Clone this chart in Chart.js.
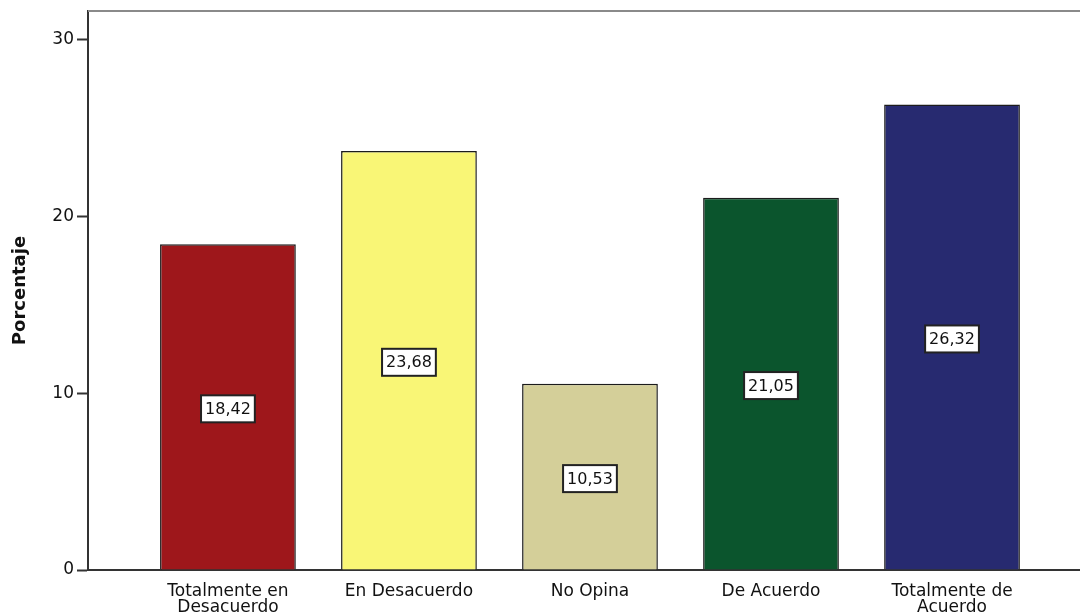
<!DOCTYPE html>
<html>
<head>
<meta charset="utf-8">
<script src="https://cdn.jsdelivr.net/npm/chart.js@4.4.1/dist/chart.umd.min.js"></script>
<style>
  html, body { margin: 0; padding: 0; background: #fff; overflow: hidden; }
  #wrap { width: 1080px; height: 615px; position: relative; }
</style>
</head>
<body>
<div id="wrap"><canvas id="c"></canvas></div>
<script>
// Porcentaje by response category (SPSS-style bar chart)
const categories = [
    ['Totalmente en', 'Desacuerdo'],
    'En Desacuerdo',
    'No Opina',
    'De Acuerdo',
    ['Totalmente de', 'Acuerdo']
];
const percentages = [18.42, 23.68, 10.53, 21.05, 26.32];
const barColors = ['#9e171b', '#f9f676', '#d4cf99', '#0b552d', '#272a70'];
const yTicks = [0, 10, 20, 30];

const FONT = '"DejaVu Sans", Verdana, sans-serif';
const points = percentages.map((v, i) => ({ x: i + 1, y: v }));

// white boxed value labels in the middle of each bar
const boxLabels = {
    id: 'boxLabels',
    afterDatasetsDraw(chart) {
        const ctx = chart.ctx;
        const meta = chart.getDatasetMeta(0);
        ctx.save();
        ctx.font = '16px ' + FONT;
        ctx.textAlign = 'center';
        ctx.textBaseline = 'middle';
        meta.data.forEach((bar, i) => {
            const txt = percentages[i].toFixed(2).replace('.', ',');
            const cy = (bar.y + bar.base) / 2 + 2;
            const w = ctx.measureText(txt).width + 8;
            const h = 27;
            ctx.fillStyle = '#fff';
            ctx.fillRect(bar.x - w / 2, cy - h / 2, w, h);
            ctx.strokeStyle = '#222';
            ctx.lineWidth = 2;
            ctx.strokeRect(bar.x - w / 2, cy - h / 2, w, h);
            ctx.fillStyle = '#111';
            ctx.fillText(txt, bar.x, cy + 1);
        });
        ctx.restore();
    }
};

// top frame line of the plot area
const topFrame = {
    id: 'topFrame',
    beforeDatasetsDraw(chart) {
        const a = chart.chartArea;
        const ctx = chart.ctx;
        ctx.save();
        ctx.strokeStyle = '#8a8a8a';
        ctx.lineWidth = 2;
        ctx.beginPath();
        ctx.moveTo(a.left, a.top);
        ctx.lineTo(chart.width, a.top);
        ctx.stroke();
        ctx.restore();
    }
};

new Chart(document.getElementById('c'), {
    type: 'bar',
    data: {
        datasets: [{
            data: points,
            backgroundColor: barColors,
            borderColor: '#1c1c1c',
            borderWidth: 1.5,
            barPercentage: 0.75,
            categoryPercentage: 1.0
        }]
    },
    options: {
        responsive: true,
        maintainAspectRatio: false,
        animation: false,
        layout: { padding: { top: 11, right: 0, left: 0, bottom: 0 } },
        plugins: {
            legend: { display: false },
            tooltip: { enabled: false }
        },
        scales: {
            x: {
                type: 'linear',
                offset: false,
                min: 0.227,
                max: 5.707,
                afterBuildTicks: s => { s.ticks = categories.map((_, i) => ({ value: i + 1 })); },
                afterFit: s => { s.height = 45; },
                grid: { display: false, drawOnChartArea: false, drawTicks: true, tickLength: 11, color: '#333', tickWidth: 2 },
                border: { display: true, color: '#333', width: 2 },
                ticks: {
                    autoSkip: false,
                    maxRotation: 0,
                    padding: 3,
                    color: '#111',
                    font: { family: FONT, size: 17, lineHeight: 0.92 },
                    callback: v => categories[v - 1] || ''
                }
            },
            y: {
                min: 0,
                max: 31.6,
                afterBuildTicks: s => { s.ticks = yTicks.map(v => ({ value: v })); },
                afterFit: s => { s.width = 88; s.paddingTop = 0; s.paddingBottom = 0; },
                grid: { display: true, drawOnChartArea: false, drawTicks: true, tickLength: 11, color: '#333', tickWidth: 2 },
                border: { display: true, color: '#333', width: 2 },
                ticks: {
                    padding: 3,
                    color: '#111',
                    font: { family: FONT, size: 17 }
                },
                title: {
                    display: true,
                    text: 'Porcentaje',
                    color: '#111',
                    padding: { top: 10, bottom: 0 },
                    font: { family: FONT, size: 18, weight: 'bold' }
                }
            }
        }
    },
    plugins: [topFrame, boxLabels]
});
</script>
</body>
</html>
